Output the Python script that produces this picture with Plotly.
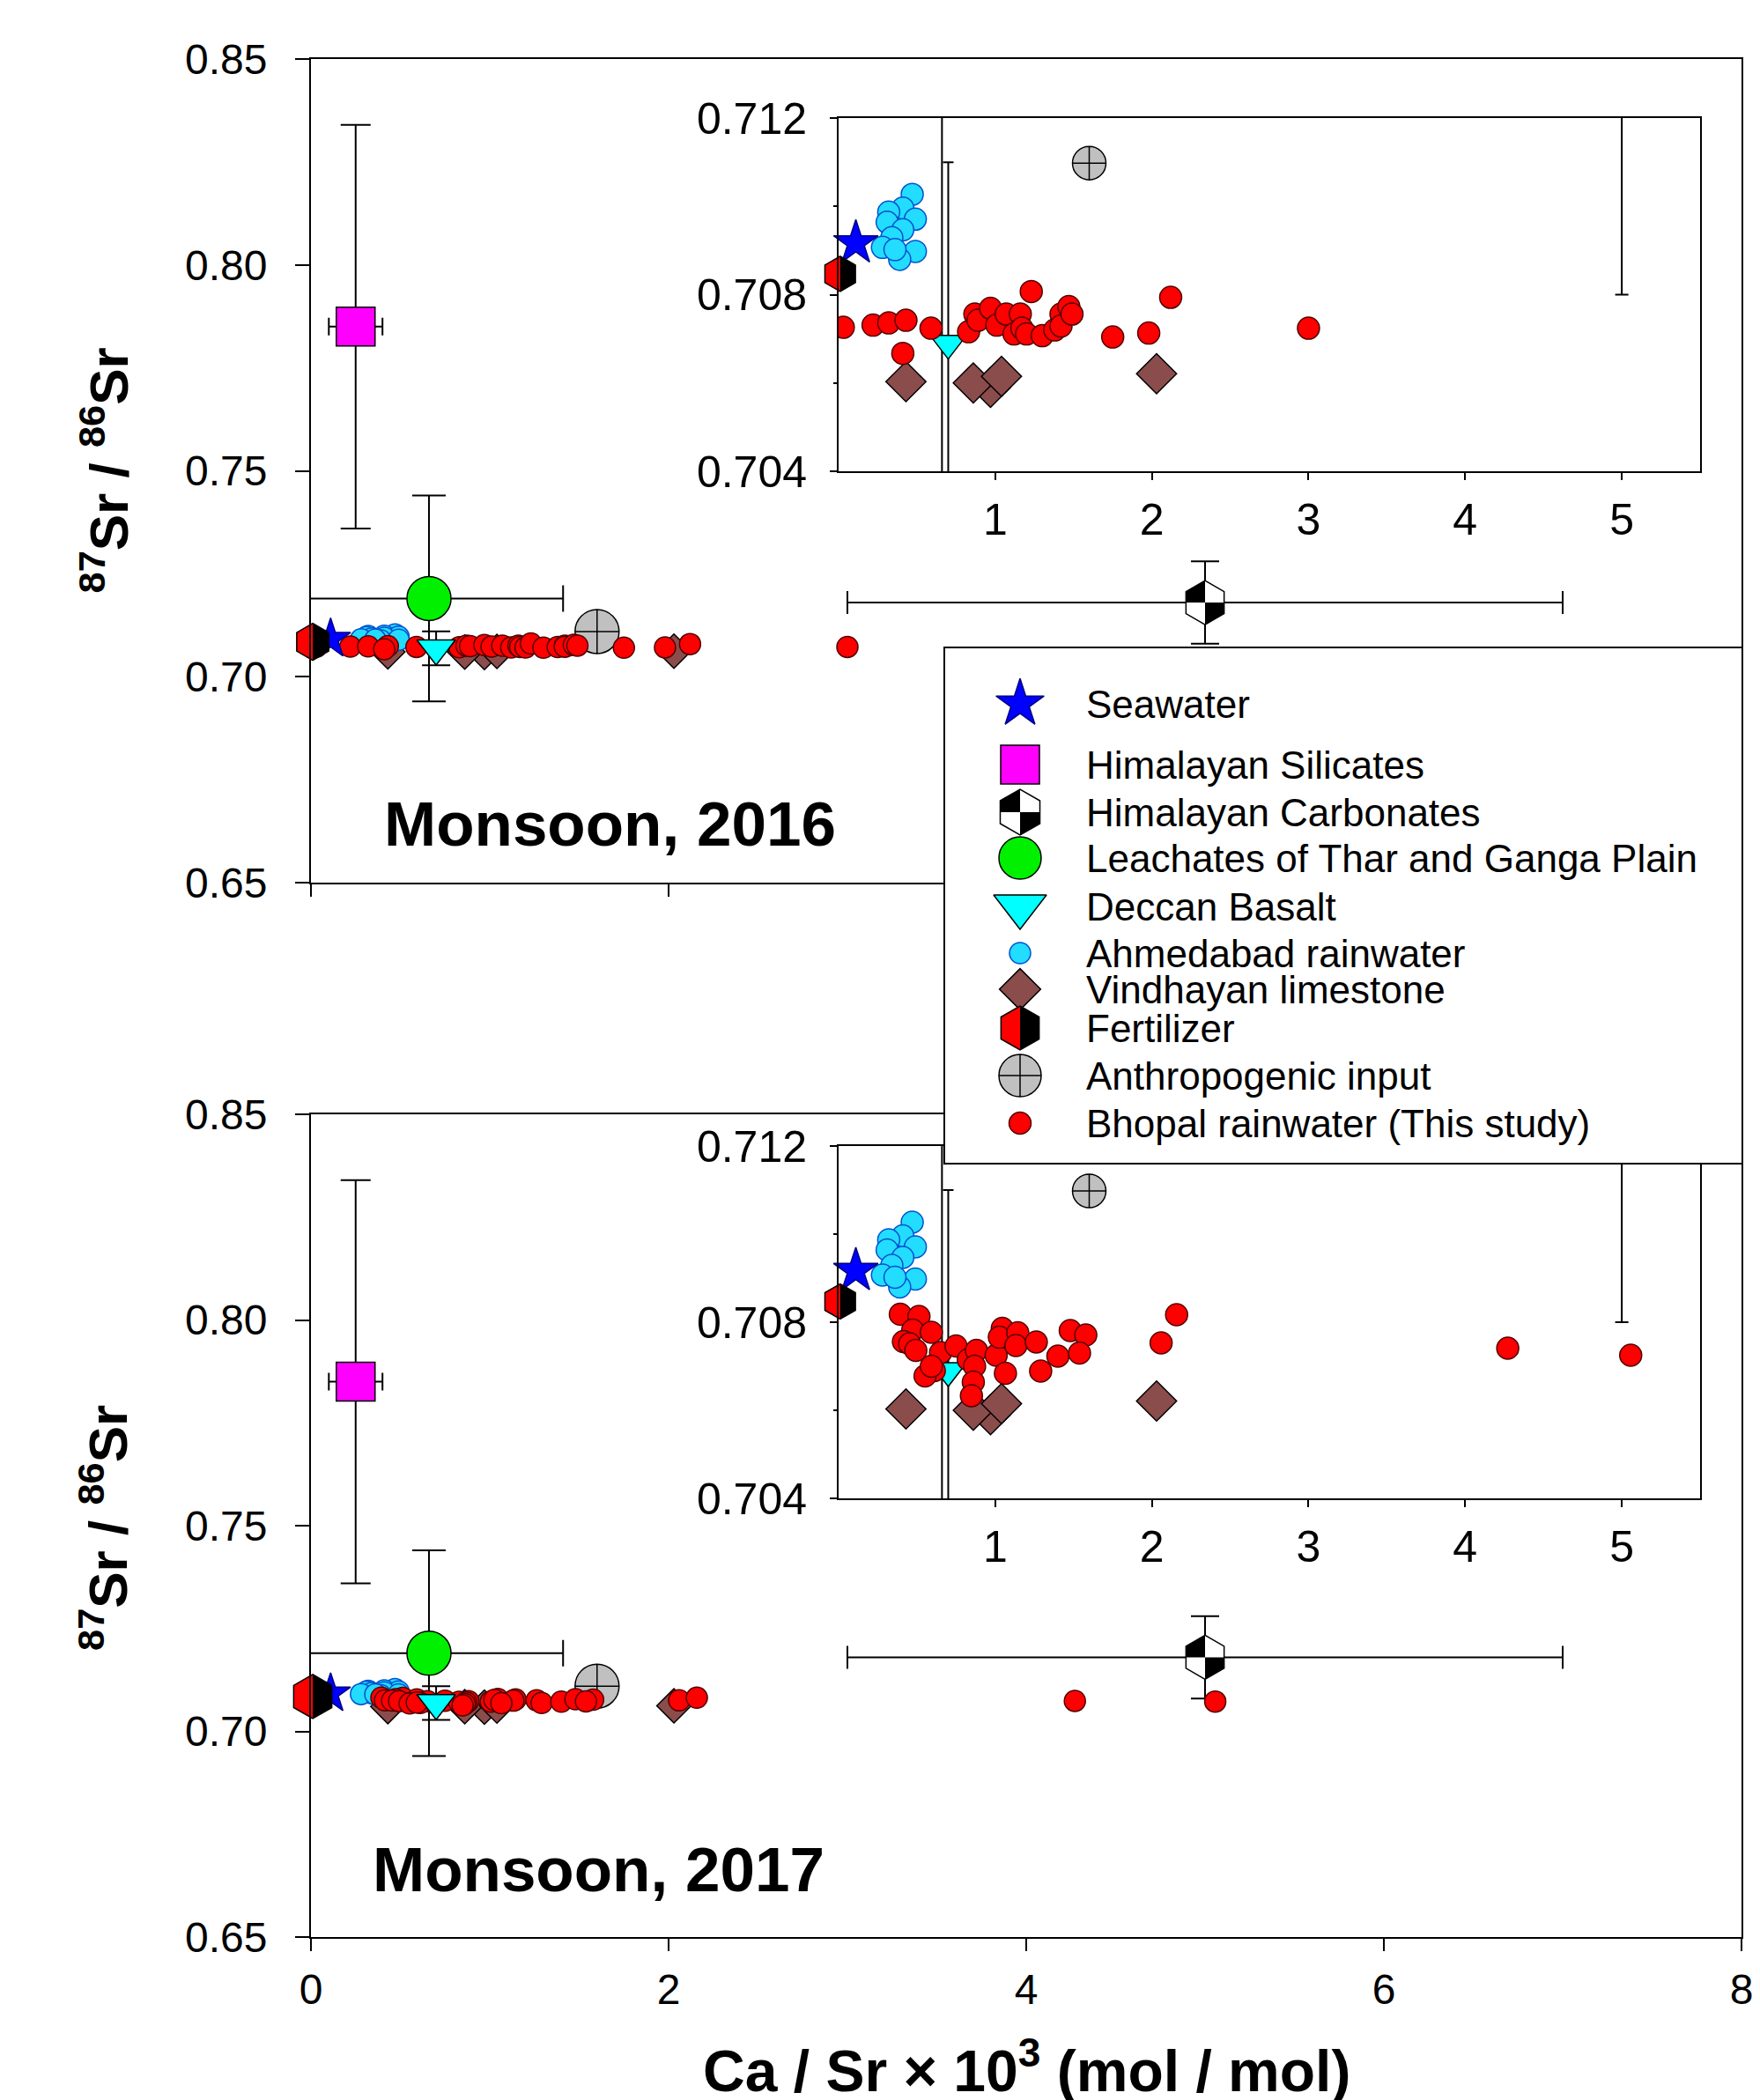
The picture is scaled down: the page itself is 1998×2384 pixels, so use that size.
import plotly.graph_objects as go

# ============================ DATA ============================
seawater_x = [0.11]
seawater_y = [0.70917]

silicates_x = [0.25]
silicates_y = [0.785]
silicates_xerr = [0.15]
silicates_yerr = [0.049]

carbonates_x = [5.0]
carbonates_y = [0.718]
carbonates_xerr = [2.0]
carbonates_yerr = [0.010]

leachates_x = [0.66]
leachates_y = [0.719]
leachates_xerr = [0.75]
leachates_yerr = [0.025]

deccan_x = [0.70]
deccan_y = [0.7069]
deccan_yerr = [0.0041]

ahmedabad_x = [0.47, 0.41, 0.32, 0.49, 0.31, 0.41, 0.34, 0.28, 0.49, 0.39, 0.36]
ahmedabad_y = [0.71027, 0.70996, 0.70987, 0.70971, 0.70964, 0.70947,
               0.70929, 0.70907, 0.70898, 0.70880, 0.70902]

vindhyan_x = [0.43, 0.97, 0.86, 1.04, 2.03]
vindhyan_y = [0.70603, 0.70590, 0.70600, 0.70615, 0.70621]

fertilizer_x = [0.01]
fertilizer_y = [0.70847]

anthropogenic_x = [1.6]
anthropogenic_y = [0.71098]

bhopal2016_x = [0.03, 0.22, 0.32, 0.43, 0.41, 0.59, 0.83, 0.87, 0.89, 0.97,
                1.01, 1.07, 1.12, 1.16, 1.17, 1.20, 1.23, 1.30, 1.38, 1.42,
                1.42, 1.47, 1.49, 1.75, 1.98, 2.12, 3.00]
bhopal2016_y = [0.70726, 0.70731, 0.70736, 0.70742, 0.70667, 0.70724, 0.70716,
                0.70756, 0.70742, 0.70769, 0.70731, 0.70756, 0.70711, 0.70756,
                0.70724, 0.70711, 0.70807, 0.70707, 0.70720, 0.70756, 0.70729,
                0.70773, 0.70756, 0.70704, 0.70713, 0.70794, 0.70724]

bhopal2017_x = [0.394, 0.513, 0.473, 0.592, 0.414, 0.454, 0.493, 0.651, 0.750,
                0.611, 0.552, 0.592, 0.828, 0.880, 0.868, 0.860, 0.848, 1.006,
                1.045, 1.026, 1.144, 1.132, 1.262, 1.065, 1.290, 1.400, 1.479,
                1.578, 1.538, 2.059, 2.158, 4.272, 5.057]
bhopal2017_y = [0.70818, 0.70813, 0.70782, 0.70777, 0.70756, 0.70751, 0.70736,
                0.70731, 0.70746, 0.70690, 0.70678, 0.70700, 0.70715, 0.70736,
                0.70700, 0.70664, 0.70633, 0.70725, 0.70786, 0.70766, 0.70776,
                0.70747, 0.70755, 0.70684, 0.70689, 0.70723, 0.70781, 0.70771,
                0.70730, 0.70753, 0.70817, 0.70741, 0.70725]

main_xticks = [0, 2, 4, 6, 8]
main_yticks = [0.65, 0.70, 0.75, 0.80, 0.85]
inset_xticks = [1, 2, 3, 4, 5]
inset_yticks = [0.704, 0.708, 0.712]
inset_yminor = [0.706, 0.710]

legend_labels = ["Seawater", "Himalayan Silicates", "Himalayan Carbonates",
                 "Leachates of Thar and Ganga Plain", "Deccan Basalt",
                 "Ahmedabad rainwater", "Vindhayan limestone", "Fertilizer",
                 "Anthropogenic input", "Bhopal rainwater (This study)"]

panel_titles = ["Monsoon, 2016", "Monsoon, 2017"]

# ============================ LAYOUT / STYLE ============================
W, H = 1998, 2384
FONT = "Liberation Sans, Arial, sans-serif"


def dom_x(a, b):
    return [a / W, b / W]


def dom_y(top, bottom):
    return [1 - bottom / H, 1 - top / H]


STY = {
    "seawater": dict(symbol="star", color="#0000FF", line="#000080"),
    "silicates": dict(symbol="square", color="#FF00FF", line="#000000"),
    "carbonates": dict(symbol="hexagon", color="#FFFFFF", line="#000000"),
    "leachates": dict(symbol="circle", color="#00F000", line="#000000"),
    "deccan": dict(symbol="triangle-down", color="#00FFFF", line="#000000"),
    "ahmedabad": dict(symbol="circle", color="#22DDFF", line="#0050D0"),
    "vindhyan": dict(symbol="diamond", color="#8B4C4C", line="#000000"),
    "fertilizer": dict(symbol="hexagon", color="#FF0000", line="#000000"),
    "anthropogenic": dict(symbol="circle-cross", color="#C0C0C0", line="#000000"),
    "bhopal": dict(symbol="circle", color="#FF0000", line="#500000"),
}

fig = go.Figure()
shapes = []


def hex_geom(size):
    R = size / 2.0
    return R, R * 0.866, R / 2.0


def add_fert_shape(xr, yr, xa, ya, size):
    R, r2, r1 = hex_geom(size)
    path = f"M 0,{R} L {r2},{r1} L {r2},{-r1} L 0,{-R} Z"
    shapes.append(dict(type="path", xref=xr, yref=yr, xsizemode="pixel", ysizemode="pixel",
                       xanchor=xa, yanchor=ya, path=path, fillcolor="black",
                       line=dict(width=0), layer="above"))


def add_carb_shapes(xr, yr, xa, ya, size):
    R, r2, r1 = hex_geom(size)
    p1 = f"M 0,0 L {-r2},0 L {-r2},{r1} L 0,{R} Z"
    p2 = f"M 0,0 L {r2},0 L {r2},{-r1} L 0,{-R} Z"
    for p in (p1, p2):
        shapes.append(dict(type="path", xref=xr, yref=yr, xsizemode="pixel", ysizemode="pixel",
                           xanchor=xa, yanchor=ya, path=p, fillcolor="black",
                           line=dict(width=0), layer="above"))


def mk(key, size, lw=1.5):
    s = STY[key]
    return dict(symbol=s["symbol"], size=size, color=s["color"],
                line=dict(color=s["line"], width=lw))


def err(arr, width):
    return dict(type="data", array=arr, symmetric=True, color="black",
                thickness=2, width=width, visible=True)


def add_panel(xid, yid, bx, by, inset, sz):
    common = dict(xaxis=xid, yaxis=yid, mode="markers", hoverinfo="skip")
    fig.add_trace(go.Scatter(x=vindhyan_x, y=vindhyan_y, marker=mk("vindhyan", sz["dia"]), **common))
    fig.add_trace(go.Scatter(x=ahmedabad_x, y=ahmedabad_y, marker=mk("ahmedabad", sz["ahm"]), **common))
    if not inset:
        fig.add_trace(go.Scatter(x=silicates_x, y=silicates_y, marker=mk("silicates", sz["sq"]),
                                 error_x=err(silicates_xerr, 10), error_y=err(silicates_yerr, 17), **common))
    fig.add_trace(go.Scatter(x=carbonates_x, y=carbonates_y, marker=mk("carbonates", sz["hexC"]),
                             error_x=err(carbonates_xerr, sz["cw_cx"]),
                             error_y=err(carbonates_yerr, sz["cw_cy"]), **common))
    fig.add_trace(go.Scatter(x=leachates_x, y=leachates_y, marker=mk("leachates", sz["leach"]),
                             error_x=err(leachates_xerr, 15), error_y=err(leachates_yerr, 19), **common))
    fig.add_trace(go.Scatter(x=anthropogenic_x, y=anthropogenic_y, marker=mk("anthropogenic", sz["anth"]),
                             **common))
    if inset:
        fig.add_trace(go.Scatter(x=deccan_x, y=deccan_y, marker=mk("deccan", sz["tri"]),
                                 error_y=err(deccan_yerr, sz["cw_d"]), **common))
        fig.add_trace(go.Scatter(x=bx, y=by, marker=mk("bhopal", sz["bh"]), **common))
    else:
        fig.add_trace(go.Scatter(x=bx, y=by, marker=mk("bhopal", sz["bh"]), **common))
        fig.add_trace(go.Scatter(x=deccan_x, y=deccan_y, marker=mk("deccan", sz["tri"]),
                                 error_y=err(deccan_yerr, sz["cw_d"]), **common))
    fig.add_trace(go.Scatter(x=seawater_x, y=seawater_y, marker=mk("seawater", sz["star"]),
                             cliponaxis=False, **common))
    fig.add_trace(go.Scatter(x=fertilizer_x, y=fertilizer_y, marker=mk("fertilizer", sz["hexF"]),
                             cliponaxis=False, **common))
    for fx, fy in zip(fertilizer_x, fertilizer_y):
        add_fert_shape(xid, yid, fx, fy, sz["hexF"])
    for cx, cy in zip(carbonates_x, carbonates_y):
        add_carb_shapes(xid, yid, cx, cy, sz["hexC"])


main_sz = dict(dia=30, ahm=24, sq=44, hexC=50, leach=50, anth=50, tri=38, bh=24, star=34,
               hexF=42, cw_cx=13, cw_cy=16, cw_d=16)
main2_sz = dict(main_sz, hexF=50)
inset_sz = dict(dia=35, ahm=25, sq=44, hexC=50, leach=48, anth=38, tri=36, bh=25, star=38,
                hexF=40, cw_cx=7, cw_cy=7.5, cw_d=6)

add_panel("x", "y", bhopal2016_x, bhopal2016_y, False, main_sz)
add_panel("x2", "y2", bhopal2016_x, bhopal2016_y, True, inset_sz)
add_panel("x3", "y3", bhopal2017_x, bhopal2017_y, False, main2_sz)
add_panel("x4", "y4", bhopal2017_x, bhopal2017_y, True, inset_sz)

# ---------------- custom legend (subplot 5) ----------------
LEG_W, LEG_H = 904, 584
leg_sym_x = 85
leg_text_x = 158
leg_rows = [63, 132, 186, 238, 293, 346, 387, 431, 485, 539]
leg_keys = ["seawater", "silicates", "carbonates", "leachates", "deccan",
            "ahmedabad", "vindhyan", "fertilizer", "anthropogenic", "bhopal"]
leg_sizes = [41, 44, 52, 48, 52, 24, 36, 50, 48, 25]
for key, ry, s in zip(leg_keys, leg_rows, leg_sizes):
    fig.add_trace(go.Scatter(x=[leg_sym_x], y=[ry], xaxis="x5", yaxis="y5", mode="markers",
                             hoverinfo="skip", marker=mk(key, s, 1.5)))
    if key == "fertilizer":
        add_fert_shape("x5", "y5", leg_sym_x, ry, s)
    if key == "carbonates":
        add_carb_shapes("x5", "y5", leg_sym_x, ry, s)

annotations = []
for lab, ry in zip(legend_labels, leg_rows):
    annotations.append(dict(xref="x5", yref="y5", x=leg_text_x, y=ry, text=lab, showarrow=False,
                            xanchor="left", yanchor="middle",
                            font=dict(family=FONT, size=44, color="black")))

# ---------------- axes ----------------
axis_common = dict(showgrid=False, zeroline=False, showline=True, linecolor="black", linewidth=2,
                   mirror=True, ticks="outside", tickcolor="black", tickwidth=2, automargin=False,
                   tickfont=dict(family=FONT, size=48, color="black"), fixedrange=True)

MAIN_X = dom_x(353, 1977)
INS_X = dom_x(952, 1930)
INS_FONT = dict(family=FONT, size=50, color="black")

layout_axes = dict(
    xaxis=dict(axis_common, domain=MAIN_X, range=[0, 8], tickmode="array", tickvals=main_xticks,
               showticklabels=False, ticklen=14, anchor="y"),
    yaxis=dict(axis_common, domain=dom_y(67, 1002), range=[0.65, 0.85], tickmode="array",
               tickvals=main_yticks, tickformat=".2f", ticklen=16, ticklabelstandoff=22, anchor="x"),
    xaxis2=dict(axis_common, domain=INS_X, range=[0, 5.5], tickmode="array", tickvals=inset_xticks,
                ticklen=8, ticklabelstandoff=2, tickfont=INS_FONT, anchor="y2"),
    yaxis2=dict(axis_common, domain=dom_y(134, 535), range=[0.704, 0.712], tickmode="array",
                tickvals=inset_yticks, tickformat=".3f", ticklen=8, ticklabelstandoff=16,
                tickfont=INS_FONT,
                minor=dict(tickmode="array", tickvals=inset_yminor, ticks="outside", ticklen=4,
                           tickcolor="black", tickwidth=2), anchor="x2"),
    xaxis3=dict(axis_common, domain=MAIN_X, range=[0, 8], tickmode="array", tickvals=main_xticks,
                ticklen=14, ticklabelstandoff=2, anchor="y3"),
    yaxis3=dict(axis_common, domain=dom_y(1265, 2199), range=[0.65, 0.85], tickmode="array",
                tickvals=main_yticks, tickformat=".2f", ticklen=16, ticklabelstandoff=22, anchor="x3"),
    xaxis4=dict(axis_common, domain=INS_X, range=[0, 5.5], tickmode="array", tickvals=inset_xticks,
                ticklen=8, ticklabelstandoff=2, tickfont=INS_FONT, anchor="y4"),
    yaxis4=dict(axis_common, domain=dom_y(1301, 1701), range=[0.704, 0.712], tickmode="array",
                tickvals=inset_yticks, tickformat=".3f", ticklen=8, ticklabelstandoff=16,
                tickfont=INS_FONT,
                minor=dict(tickmode="array", tickvals=inset_yminor, ticks="outside", ticklen=4,
                           tickcolor="black", tickwidth=2), anchor="x4"),
    xaxis5=dict(domain=dom_x(1073, 1977), range=[0, LEG_W], showgrid=False, zeroline=False,
                showline=True, linecolor="black", linewidth=2, mirror=True, ticks="",
                showticklabels=False, fixedrange=True, automargin=False, anchor="y5"),
    yaxis5=dict(domain=dom_y(736, 1320), range=[LEG_H, 0], showgrid=False, zeroline=False,
                showline=True, linecolor="black", linewidth=2, mirror=True, ticks="",
                showticklabels=False, fixedrange=True, automargin=False, anchor="x5"),
)

# ---------------- titles ----------------
ytitle = "<b><sup>87</sup>Sr / <sup>86</sup>Sr</b>"
for yc in (534.5, 1735):
    annotations.append(dict(xref="paper", yref="paper", x=118 / W, y=1 - yc / H, text=ytitle,
                            textangle=-90, showarrow=False, xanchor="center", yanchor="middle",
                            font=dict(family=FONT, size=62, color="black")))
annotations.append(dict(xref="paper", yref="paper", x=1165 / W, y=1 - 2346 / H,
                        text="<b>Ca / Sr × 10<sup>3</sup> (mol / mol)</b>", showarrow=False,
                        xanchor="center", yanchor="middle",
                        font=dict(family=FONT, size=66, color="black")))
annotations.append(dict(xref="x", yref="y", x=1.67, y=0.6643, text="<b>" + panel_titles[0] + "</b>",
                        showarrow=False, xanchor="center", yanchor="middle",
                        font=dict(family=FONT, size=71, color="black")))
annotations.append(dict(xref="x3", yref="y3", x=1.61, y=0.6663, text="<b>" + panel_titles[1] + "</b>",
                        showarrow=False, xanchor="center", yanchor="middle",
                        font=dict(family=FONT, size=71, color="black")))

fig.update_layout(
    template="none",
    width=W, height=H, margin=dict(l=0, r=0, t=0, b=0, pad=0),
    paper_bgcolor="white", plot_bgcolor="white", showlegend=False,
    font=dict(family=FONT, color="black"),
    annotations=annotations, shapes=shapes,
    **layout_axes,
)

fig.write_html("out.html")
